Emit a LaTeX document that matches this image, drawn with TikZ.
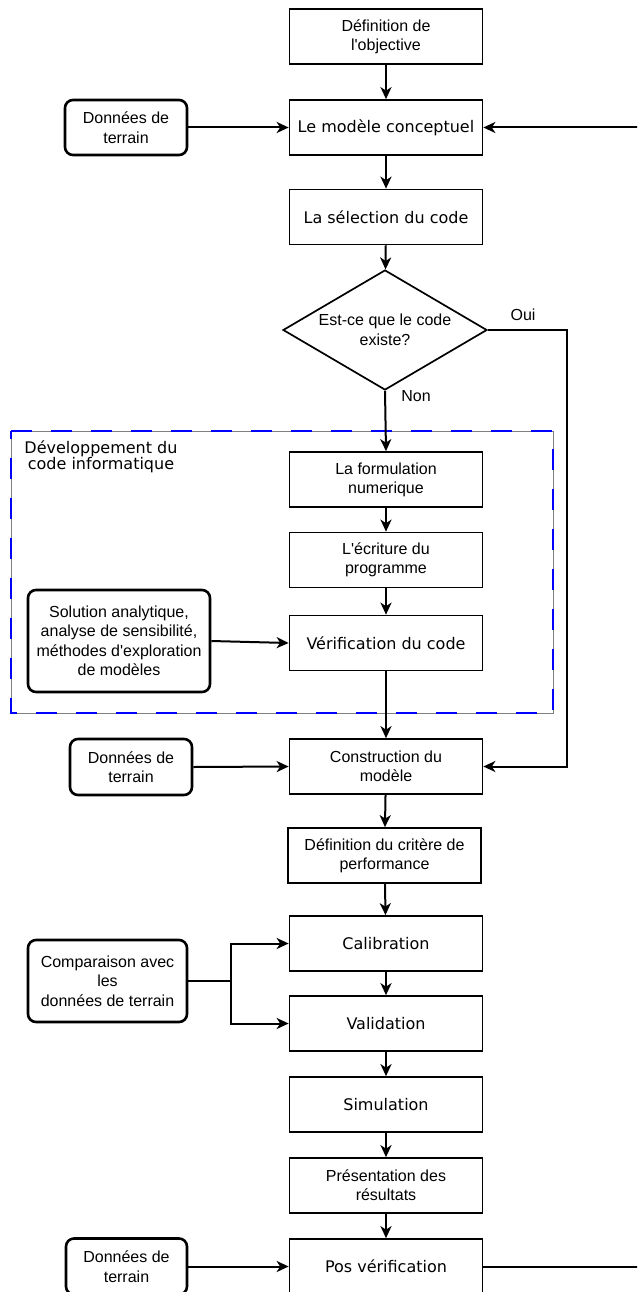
\documentclass[tikz,border=0pt]{standalone}
\usepackage{fontspec}
\setmainfont{Liberation Sans}[Ligatures=TeXOff]
\newfontfamily\dvsans{DejaVu Sans}[Ligatures=TeXOff]
\usetikzlibrary{arrows.meta,shapes.geometric}
\begin{document}
\begin{tikzpicture}[x=1pt,y=-1pt,
  box/.style={draw, line width=1.7pt, minimum width=193pt, minimum height=55pt, inner sep=0pt, align=center, font=\fontsize{16}{19}\selectfont},
  dvbox/.style={box, font=\dvsans\fontsize{16}{19}\selectfont},
  data/.style={draw, line width=2.6pt, rounded corners=8pt, inner sep=0pt, align=center, font=\fontsize{16}{19.5}\selectfont},
  conn/.style={line width=2pt, -{Stealth[length=12pt,width=11pt,inset=3.5pt]}},
  plain/.style={line width=2pt},
  lbl/.style={font=\fontsize{16}{19}\selectfont, inner sep=0pt}
]
\useasboundingbox (0,0) rectangle (637,1292);
\clip (0,0) rectangle (637,1292);

% container
\draw[gray, line width=1pt] (11,431) rectangle (553,713);
\draw[blue, line width=2pt, dash pattern=on 21pt off 19pt] (11,431) -- (553,431) -- (553,713) -- (11,713) -- cycle;
\node[font=\dvsans\fontsize{16}{16}\selectfont, align=center, anchor=north, inner sep=0pt] (devt) at (101,440) {Développement du\\code informatique};

% main column
\node[box] (def) at (386,36.5) {Définition de\\l'objective};
\node[dvbox] (conc) at (386,127.5) {Le modèle conceptuel};
\node[dvbox] (sel) at (386,217) {La sélection du code};
\node[diamond, draw, line width=1.7pt, aspect=1.7, inner sep=0pt, minimum width=204pt, minimum height=120pt, align=center, font=\fontsize{16}{20}\selectfont] (dia) at (385,330) {Est-ce que le code\\existe?};
\node[box] (form) at (386,479.5) {La formulation\\numerique};
\node[box] (ecr) at (386,560) {L'écriture du\\programme};
\node[dvbox] (verif) at (386,643) {Vérification du code};
\node[box] (cons) at (386,766.5) {Construction du\\modèle};
\node[box] (crit) at (384.5,855.5) {Définition du critère de\\performance};
\node[dvbox] (cal) at (386,943.5) {Calibration};
\node[dvbox] (val) at (386,1023.5) {Validation};
\node[dvbox] (sim) at (386,1104.5) {Simulation};
\node[box] (pres) at (386,1185.5) {Présentation des\\résultats};
\node[dvbox] (pos) at (386,1266.5) {Pos vérification};

% side inputs
\node[data, minimum width=122pt, minimum height=55pt] (d1) at (126,127.5) {Données de\\terrain};
\node[data, minimum width=182pt, minimum height=102pt] (sol) at (119,641) {Solution analytique,\\analyse de sensibilité,\\méthodes d'exploration\\de modèles};
\node[data, minimum width=122pt, minimum height=56pt] (d2) at (131,767) {Données de\\terrain};
\node[data, minimum width=159pt, minimum height=82pt] (comp) at (107.5,981) {Comparaison avec\\les\\données de terrain};
\node[data, minimum width=121pt, minimum height=56pt] (d3) at (126.5,1266.5) {Données de\\terrain};

% labels
\node[lbl] (oui) at (523,315) {Oui};
\node[lbl] (non) at (416,396) {Non};

% connectors
\draw[conn] (def) -- (conc);
\draw[conn] (conc) -- (sel);
\draw[conn] (sel) -- (dia);
\draw[conn] (dia.south) -- (form.north);
\draw[conn] (form) -- (ecr);
\draw[conn] (ecr) -- (verif);
\draw[conn] (verif) -- (cons);
\draw[conn] (cons) -- (crit);
\draw[conn] (crit) -- (cal);
\draw[conn] (cal) -- (val);
\draw[conn] (val) -- (sim);
\draw[conn] (sim) -- (pres);
\draw[conn] (pres) -- (pos);

\draw[conn] (d1.east) -- (conc.west);
\draw[conn] (d2.east) -- (cons.west);
\draw[conn] (d3.east) -- (pos.west);
\draw[conn] (sol.east) -- (verif.west);

\coordinate (oy) at (567,330);
\draw[conn] (dia.east) -- (oy) |- (cons.east);

\coordinate (br) at (231,981);
\draw[plain] (comp.east) -- (br);
\draw[conn] (br) |- (cal.west);
\draw[conn] (br) |- (val.west);

\coordinate (rt) at (660,0);
\draw[conn] (pos.east) -- (pos.east -| rt) -- (conc.east -| rt) -- (conc.east);
\end{tikzpicture}
\end{document}
